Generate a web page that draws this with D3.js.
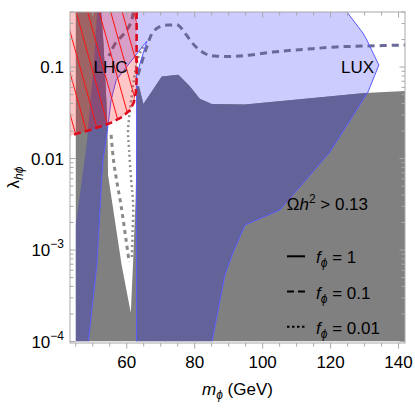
<!DOCTYPE html>
<html><head><meta charset="utf-8">
<script src="https://cdn.jsdelivr.net/npm/d3@7"></script>
<style>
body{margin:0;background:#fff}
svg{display:block;font-family:"Liberation Sans",Arial,sans-serif}
</style>
</head><body><svg id="c" width="415" height="415"></svg>
<script>
// ---- data (m_phi in GeV, lambda_h_phi) ----
const xMajorTicks = [60, 80, 100, 120, 140];
const xMinorTicks = [45,50,55,65,70,75,85,90,95,105,110,115,125,130,135];
const yMajorTicks = [1e-4, 1e-3, 1e-2, 1e-1];
const yTickBase = ["10", "10", "0.01", "0.1"];
const yTickSup = ["−4", "−3", "", ""];

// Omega h^2 > 0.13 region (gray)
const relicRegion = [[45,1e-4],[45,0.4],[52.5,0.4],[53.1,0.197],[54.0,0.0436],[54.4,0.0159],[54.5,0.0066],
  [58.5,0.000686],[61.2,0.000205],[61.9,0.000778],[62.6,0.00352],[62.9,0.0124],[62.9,0.062],[63.6,0.062],
  [64.9,0.0394],[70.3,0.079],[75.2,0.0824],[78.5,0.062],[81.5,0.045],[85.0,0.0395],[94.8,0.039],
  [130.1,0.052],[141.9,0.0547],[141.9,1e-4]];

// LUX excluded region (blue), f_phi = 1
const luxOuterEdge = [[124.8,0.4],[129.5,0.236],[130.7,0.197],[134.2,0.105],[131.0,0.0533],[119.8,0.0118],
  [105.1,0.00274],[94.8,0.00188],[91.0,0.000881],[88.9,0.000533],[85.1,1e-4]];
const luxNotchEdge = [[62.9,1e-4],[62.9,0.0818],[65.9,0.192],[56.9,0.0721],[55.4,0.0436],[54.2,0.019],
  [53.0,0.00964],[52.7,0.0066],[51.2,0.000686],[48.7,1e-4]];
const luxLeftEdge = [[45,1e-4],[45,0.00188],[48.2,0.0141],[50.4,0.119],[51.3,0.4]];

// LHC (invisible width) excluded region
const lhcEdge = [[62.9,0.4],[62.9,0.0721],[62.7,0.0533],[62.1,0.0414],[61.0,0.0339],[58.6,0.0284],
  [55.1,0.0244],[49.2,0.0205],[43.3,0.0178]];
const lhcCorner = [[43.3,0.4]];

// f_phi = 0.1 contours (dashed)
const dashUpperRight = [[63.3,0.0818],[64.8,0.125],[66.0,0.17],[67.7,0.241],[70.1,0.281],[73.0,0.288],
  [75.1,0.288],[77.1,0.236],[80.1,0.17],[83.3,0.139],[86.0,0.132],[93.3,0.132],[103.0,0.146],
  [108.9,0.153],[114.8,0.159],[121.6,0.166],[130.4,0.17],[141.9,0.174]];
const dashUpperLeft = [[61.9,0.4],[61.5,0.329],[60.4,0.267],[58.9,0.224],[57.1,0.192],[55.6,0.1545],[54.8,0.132]];
const dashSpike = [[55.4,0.0181],[56.1,0.00964],[57.0,0.00582],[58.3,0.0031],[59.8,0.00129],[60.7,0.00074]];
// f_phi = 0.01 contour (dotted)
const dotSpike = [[64.8,0.166],[63.3,0.125],[62.1,0.0721],[61.0,0.035],[60.4,0.02],[60.7,0.0124],
  [61.3,0.00582],[61.9,0.0031],[61.7,0.00146],[61.5,0.000818]];

const legendLabels = ["1", "0.1", "0.01"];
const legendDash = [null, "7,4", "2.5,2.5"];

// ---- drawing ----
const svg = d3.select("#c");
const L = 70, R = 405, T = 12, B = 343;
const x = d3.scaleLinear().domain([43.3, 141.9]).range([L, R]);
const y = d3.scaleLog().domain([1e-4, 0.4]).range([341.5, T]);
const line = d3.line().x(d => x(d[0])).y(d => y(d[1]));
const smooth = d3.line().x(d => x(d[0])).y(d => y(d[1])).curve(d3.curveCatmullRom.alpha(0.5));

const defs = svg.append("defs");
defs.append("clipPath").attr("id", "plot").append("rect")
  .attr("x", L).attr("y", T).attr("width", R - L).attr("height", 341.5 - T);
defs.append("clipPath").attr("id", "grayclip").append("path").attr("d", line(relicRegion) + "Z");
const luxRegion = luxOuterEdge.concat(luxNotchEdge, luxLeftEdge);
const lhcRegion = lhcCorner.concat(lhcEdge);
defs.append("clipPath").attr("id", "lhcclip").append("path").attr("d", line(lhcRegion) + "Z");
const pat = defs.append("pattern").attr("id", "hatch").attr("patternUnits", "userSpaceOnUse")
  .attr("width", 11.1).attr("height", 40).attr("patternTransform", "rotate(-15.6) translate(3,0)");
pat.append("line").attr("x1", 0.5).attr("y1", 0).attr("x2", 0.5).attr("y2", 40)
  .attr("stroke", "#ff1010").attr("stroke-width", 1);

const g = svg.append("g").attr("clip-path", "url(#plot)");
g.append("path").attr("d", line(luxRegion) + "Z").attr("fill", "#ccccff");
g.append("path").attr("d", line(relicRegion) + "Z").attr("fill", "#808080");
g.append("g").attr("clip-path", "url(#grayclip)")
  .append("path").attr("d", line(luxRegion) + "Z").attr("fill", "#63639a");

// contour lines
g.append("path").attr("d", smooth(dashUpperRight)).attr("fill", "none")
  .attr("stroke", "#6a6a98").attr("stroke-width", 3).attr("stroke-dasharray", "7,5");
g.append("path").attr("d", smooth(dashUpperLeft)).attr("fill", "none")
  .attr("stroke", "#6a6a98").attr("stroke-width", 3).attr("stroke-dasharray", "7,5");
g.append("path").attr("d", smooth(dashSpike)).attr("fill", "none")
  .attr("stroke", "#8a8a8a").attr("stroke-width", 3).attr("stroke-dasharray", "4,4");
g.append("path").attr("d", smooth(dotSpike)).attr("fill", "none")
  .attr("stroke", "#8f8f8f").attr("stroke-width", 2.5).attr("stroke-dasharray", "2,3");

// LUX boundary strokes
g.append("path").attr("d", line(luxOuterEdge)).attr("fill", "none").attr("stroke", "#5a5aff").attr("stroke-width", 1);
g.append("path").attr("d", line(luxNotchEdge)).attr("fill", "none").attr("stroke", "#5a5aff").attr("stroke-width", 1);

// LHC region
g.append("path").attr("d", line(lhcRegion) + "Z").attr("fill", "#ff0000").attr("fill-opacity", 0.22);
g.append("g").attr("clip-path", "url(#lhcclip)").append("rect")
  .attr("x", L).attr("y", T).attr("width", R - L).attr("height", 341.5 - T).attr("fill", "url(#hatch)");
g.append("path").attr("d", line(lhcEdge)).attr("fill", "none")
  .attr("stroke", "#dd0a1e").attr("stroke-width", 2.6).attr("stroke-dasharray", "7,4");

// labels inside plot
svg.append("text").attr("x", 110.5).attr("y", 72.7).attr("text-anchor", "middle")
  .attr("font-size", 17).text("LHC");
svg.append("text").attr("x", 357.5).attr("y", 72.7).attr("text-anchor", "middle")
  .attr("font-size", 17).text("LUX");
const om = svg.append("text").attr("x", 286.7).attr("y", 210).attr("font-size", 17);
om.append("tspan").text("Ω");
om.append("tspan").attr("font-style", "italic").text("h");
om.append("tspan").attr("font-size", 12).attr("dy", -7).text("2");
om.append("tspan").attr("dy", 7).text(" > 0.13");

// legend
legendLabels.forEach((lab, i) => {
  const by = 263.3 + i * 35.2;
  svg.append("line").attr("x1", 287).attr("x2", 305).attr("y1", by - 7).attr("y2", by - 7)
    .attr("stroke", "#000").attr("stroke-width", 2)
    .attr("stroke-dasharray", legendDash[i]);
  const t = svg.append("text").attr("x", 316).attr("y", by).attr("font-size", 17);
  t.append("tspan").attr("font-style", "italic").text("f");
  t.append("tspan").attr("font-style", "italic").attr("font-size", 12).attr("dy", 4).text("ϕ");
  t.append("tspan").attr("dy", -4).text(" = " + lab);
});

// frame and ticks
const fc = "#a8a8a8";
svg.append("rect").attr("x", L).attr("y", T).attr("width", R - L).attr("height", B - T)
  .attr("fill", "none").attr("stroke", fc).attr("stroke-width", 1);
const tk = svg.append("g").attr("stroke", fc).attr("stroke-width", 1);
xMajorTicks.forEach(v => {
  tk.append("line").attr("x1", x(v)).attr("x2", x(v)).attr("y1", B).attr("y2", B + 5.5);
  tk.append("line").attr("x1", x(v)).attr("x2", x(v)).attr("y1", T).attr("y2", T + 5.5);
});
xMinorTicks.forEach(v => {
  tk.append("line").attr("x1", x(v)).attr("x2", x(v)).attr("y1", B).attr("y2", B + 3.5);
  tk.append("line").attr("x1", x(v)).attr("x2", x(v)).attr("y1", T).attr("y2", T + 3.5);
});
yMajorTicks.forEach(v => {
  tk.append("line").attr("x1", L).attr("x2", L + 5.5).attr("y1", y(v)).attr("y2", y(v));
  tk.append("line").attr("x1", R).attr("x2", R - 5.5).attr("y1", y(v)).attr("y2", y(v));
  for (let k = 2; k <= 9; k++) {
    const mv = v * k;
    if (mv > 0.4) break;
    tk.append("line").attr("x1", L).attr("x2", L + 3.5).attr("y1", y(mv)).attr("y2", y(mv));
    tk.append("line").attr("x1", R).attr("x2", R - 3.5).attr("y1", y(mv)).attr("y2", y(mv));
  }
});
xMajorTicks.forEach(v => {
  svg.append("text").attr("x", x(v)).attr("y", 368.3).attr("text-anchor", "middle")
    .attr("font-size", 17).text(v);
});
yMajorTicks.forEach((v, i) => {
  const t = svg.append("text").attr("x", 64).attr("y", y(v) + 6).attr("text-anchor", "end")
    .attr("font-size", 17);
  t.append("tspan").text(yTickBase[i]);
  if (yTickSup[i]) t.append("tspan").attr("font-size", 12).attr("dy", -8).text(yTickSup[i]);
});

// axis titles
const xt = svg.append("text").attr("x", (L + R) / 2).attr("y", 395).attr("text-anchor", "middle")
  .attr("font-size", 17);
xt.append("tspan").attr("font-style", "italic").text("m");
xt.append("tspan").attr("font-style", "italic").attr("font-size", 12).attr("dy", 4).text("ϕ");
xt.append("tspan").attr("dy", -4).text(" (GeV)");
const yt = svg.append("text").attr("transform", `translate(19,${(T + B) / 2}) rotate(-90)`)
  .attr("text-anchor", "middle").attr("font-size", 17);
yt.append("tspan").text("λ");
yt.append("tspan").attr("font-style", "italic").attr("font-size", 12).attr("dy", 4).text("hϕ");
</script>
</body></html>
